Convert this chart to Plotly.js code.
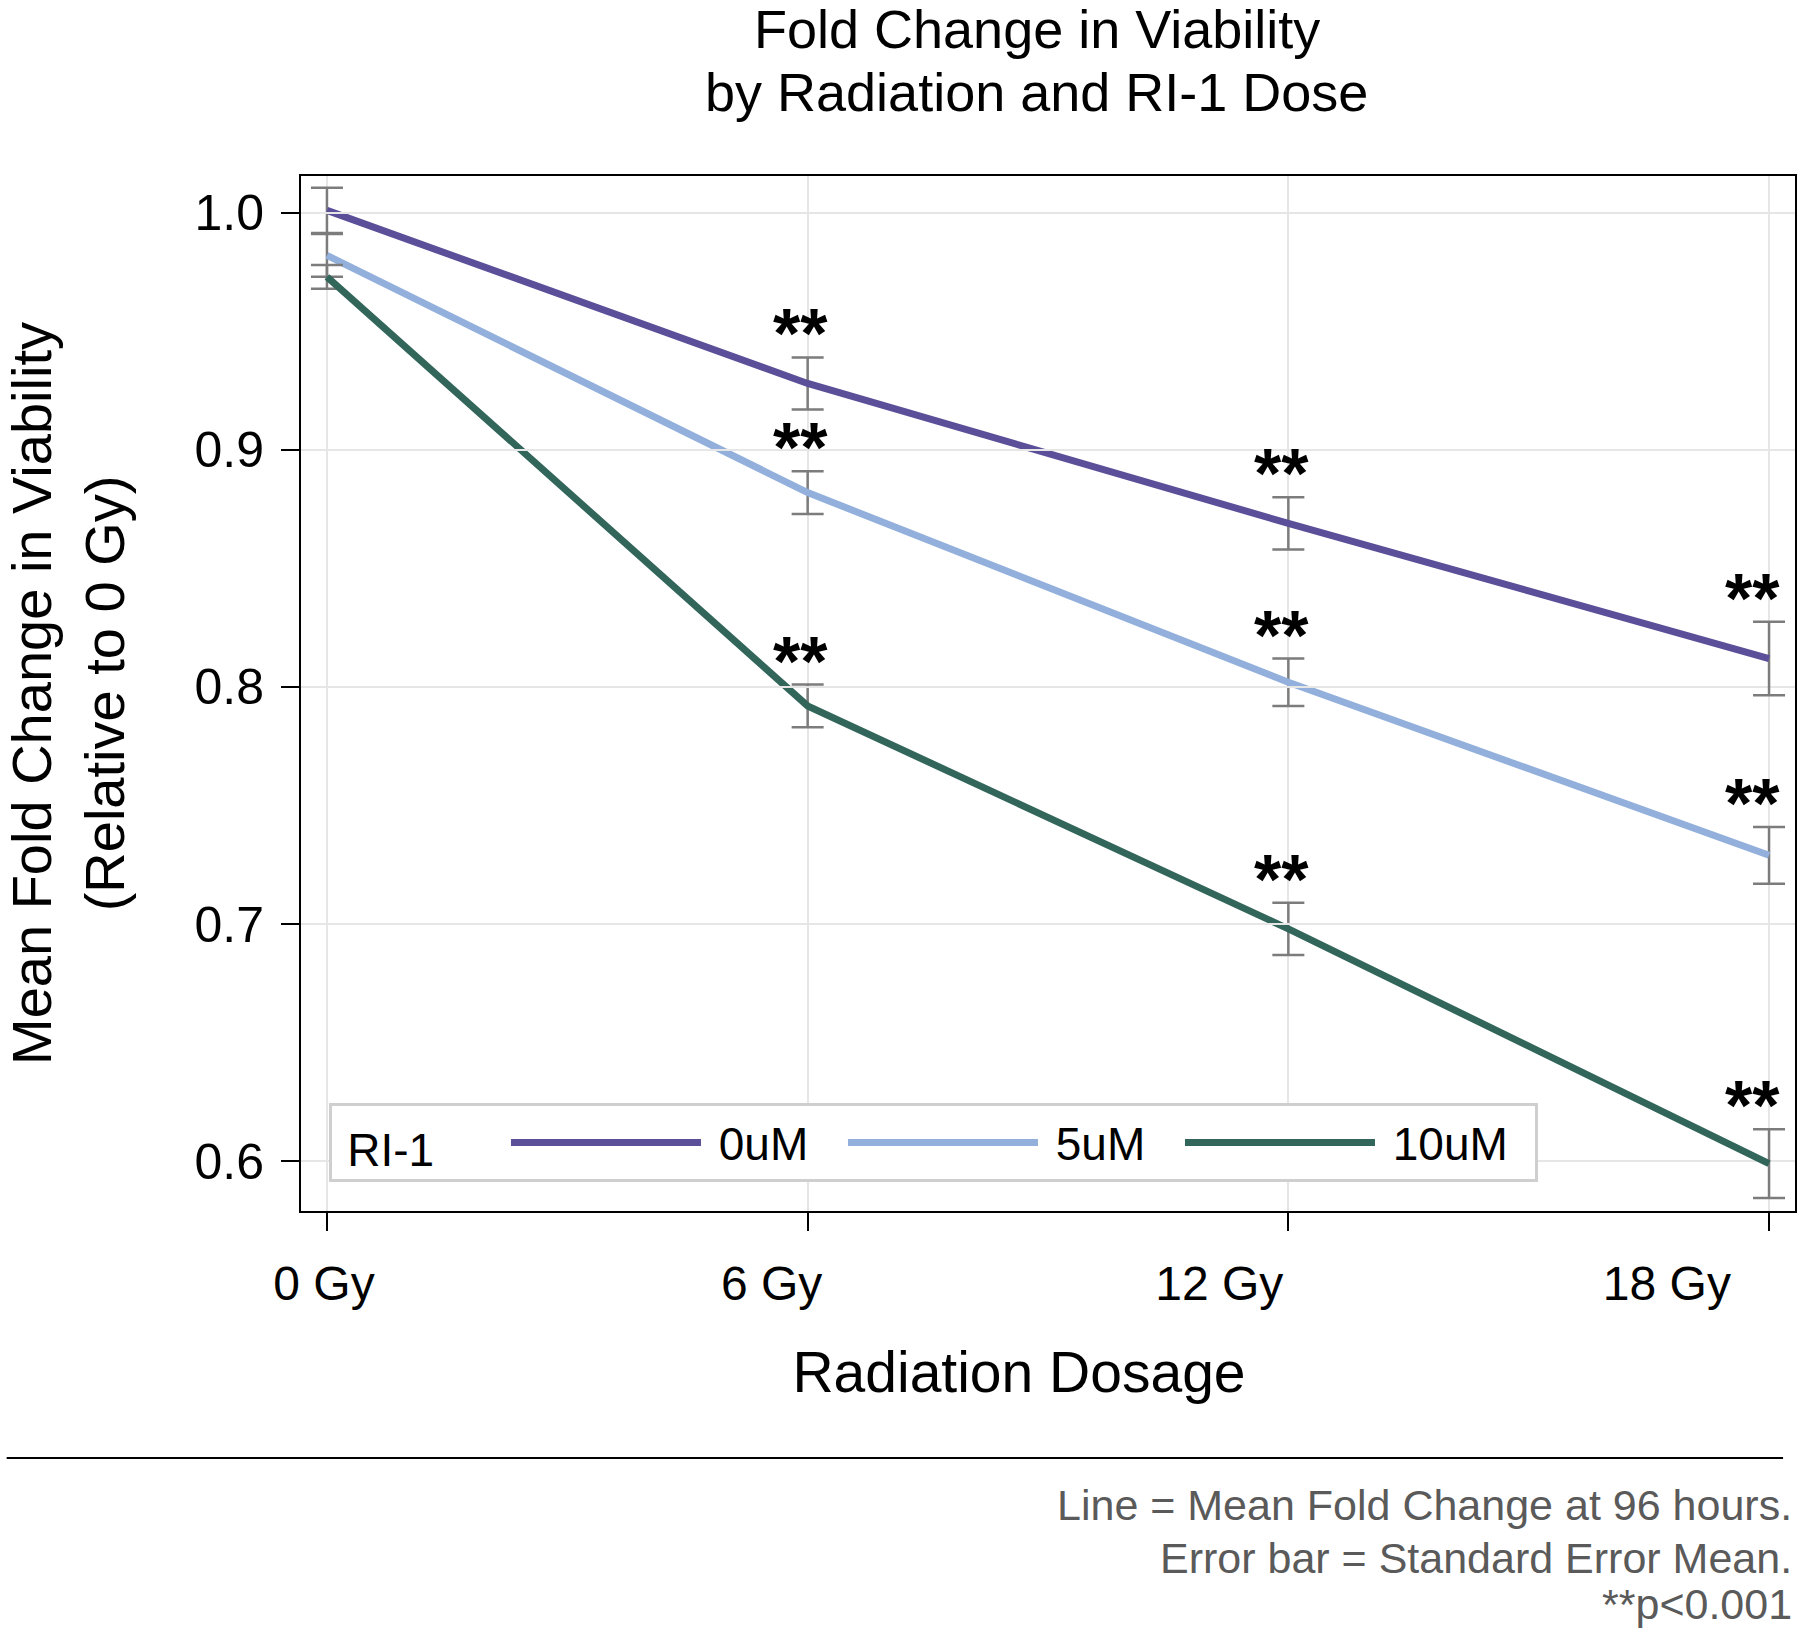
<!DOCTYPE html>
<html>
<head>
<meta charset="utf-8">
<script src="https://cdn.plot.ly/plotly-3.0.1.min.js"></script>
<style>
  body { margin: 0; background: #fff; }
  #chart { width: 1800px; height: 1630px; }
</style>
</head>
<body>
<div id="chart"></div>
<script>
// Radiation doses (Gy) and their labels
var doses = [0, 6, 12, 18];
var doseLabels = ['0 Gy', '6 Gy', '12 Gy', '18 Gy'];

// Mean fold change in viability, one array per RI-1 dose
var mean0uM = [1.001, 0.928, 0.869, 0.812];
var mean5uM = [0.982, 0.882, 0.802, 0.729];
var mean10uM = [0.973, 0.792, 0.698, 0.599];

// Standard error of the mean
var sem0uM = [0.0095, 0.011, 0.011, 0.0155];
var sem5uM = [0.009, 0.009, 0.010, 0.012];
var sem10uM = [0.005, 0.009, 0.011, 0.0145];

// significance flag per dose (** p<0.001)
var signif = [false, true, true, true];

var seriesNames = ['0uM', '5uM', '10uM'];
var seriesColors = ['#5c4f99', '#93b0dc', '#33665a'];

var titleLines = ['Fold Change in Viability', 'by Radiation and RI-1 Dose'];
var footLines = ['Line = Mean Fold Change at 96 hours.', 'Error bar = Standard Error Mean.', '**p<0.001'];

var font = 'Liberation Sans, Arial, sans-serif';
var nb = '\u00a0';

function makeTrace(means, errs, i) {
  return {
    x: doses,
    y: means,
    name: nb + seriesNames[i],
    type: 'scatter',
    mode: 'lines',
    line: { color: seriesColors[i], width: 7 },
    error_y: {
      type: 'data',
      array: errs,
      visible: true,
      color: '#7c7c7c',
      thickness: 2.5,
      width: 16
    }
  };
}

var data = [
  makeTrace(mean0uM, sem0uM, 0),
  makeTrace(mean5uM, sem5uM, 1),
  makeTrace(mean10uM, sem10uM, 2)
];
data[2].legendwidth = 150;

// empty trace so the label axis (x2) gets drawn
data.push({
  x: doses, y: mean0uM, xaxis: 'x2', yaxis: 'y',
  type: 'scatter', mode: 'none', showlegend: false, hoverinfo: 'skip'
});

// star annotations above each significant error bar
var annotations = [];
[[mean0uM, sem0uM], [mean5uM, sem5uM], [mean10uM, sem10uM]].forEach(function (s) {
  doses.forEach(function (d, j) {
    if (!signif[j]) return;
    annotations.push({
      x: d,
      y: s[0][j] + s[1][j],
      xref: 'x', yref: 'y',
      text: '**',
      showarrow: false,
      yanchor: 'bottom',
      xanchor: 'center',
      xshift: j === doses.length - 1 ? -17 : -7,
      yshift: -18,
      font: { family: font, size: 70, color: '#000', weight: 'bold' }
    });
  });
});

// chart title, two lines
var titleY = [1.1424, 1.0816];
titleLines.forEach(function (t, k) {
  annotations.push({
    xref: 'paper', yref: 'paper',
    x: 0.4926, y: titleY[k],
    xanchor: 'center', yanchor: 'middle',
    showarrow: false,
    text: t,
    font: { family: font, size: 54, color: '#000' }
  });
});

// footnote, one line per annotation
var footY = [-0.2841, -0.3353, -0.3797];
footLines.forEach(function (t, k) {
  annotations.push({
    xref: 'paper', yref: 'paper',
    x: 0.999, y: footY[k],
    xanchor: 'right', yanchor: 'middle',
    showarrow: false,
    text: t,
    font: { family: font, size: 43, color: '#5a5a5a' }
  });
});

var layout = {
  width: 1800,
  height: 1630,
  margin: { l: 301, r: 3, t: 176, b: 419 },
  paper_bgcolor: '#fff',
  plot_bgcolor: 'rgba(0,0,0,0)',
  font: { family: font, color: '#000' },
  xaxis: {
    range: [-0.324, 18.324],
    tickvals: doses,
    showticklabels: false,
    ticks: 'outside', ticklen: 18, tickwidth: 2, tickcolor: '#000',
    showgrid: true, gridcolor: '#e6e6e6', gridwidth: 2,
    showline: true, linecolor: '#000', linewidth: 2, mirror: true,
    zeroline: false
  },
  // label axis: the dose labels sit on a slightly tighter scale than the ticks
  xaxis2: {
    anchor: 'y',
    domain: [0, 0.9612],
    side: 'bottom',
    range: [-0.308, 18.94],
    tickvals: doses,
    ticktext: doseLabels,
    ticks: '',
    ticklabelstandoff: 40,
    ticklabeloverflow: 'allow',
    tickfont: { family: font, size: 48, color: '#000' },
    showgrid: false, showline: false, zeroline: false,
    automargin: true,
    title: { text: 'Radiation Dosage', font: { family: font, size: 57, color: '#000' }, standoff: 43 }
  },
  yaxis: {
    range: [0.579, 1.0155],
    tickvals: [0.6, 0.7, 0.8, 0.9, 1.0],
    ticktext: ['0.6', '0.7', '0.8', '0.9', '1.0'],
    ticks: 'outside', ticklen: 18, tickwidth: 2, tickcolor: '#000',
    ticklabelstandoff: 7,
    tickfont: { family: font, size: 50, color: '#000' },
    showgrid: true, gridcolor: '#e6e6e6', gridwidth: 2,
    showline: true, linecolor: '#000', linewidth: 2, mirror: true,
    zeroline: false,
    automargin: true,
    title: { text: 'Mean Fold Change in Viability<br>(Relative to 0 Gy)', font: { family: font, size: 56, color: '#000' }, standoff: 78 }
  },
  showlegend: true,
  legend: {
    orientation: 'h',
    x: 0.019, y: 0.028,
    xanchor: 'left', yanchor: 'bottom',
    bgcolor: '#fff',
    bordercolor: '#cfcfcf',
    borderwidth: 3,
    itemwidth: 190,
    entrywidth: 132,
    traceorder: 'normal',
    font: { family: font, size: 46, color: '#000' },
    title: { text: nb + 'RI-1' + nb + nb + nb + nb + nb, side: 'left', font: { family: font, size: 46, color: '#000' } }
  },
  shapes: [{
    type: 'line', xref: 'paper', yref: 'paper',
    x0: -0.197, x1: 0.992, y0: -0.2386, y1: -0.2386,
    line: { color: '#000', width: 2 }
  }],
  annotations: annotations
};

Plotly.newPlot('chart', data, layout, { displayModeBar: false, staticPlot: true });
</script>
</body>
</html>
